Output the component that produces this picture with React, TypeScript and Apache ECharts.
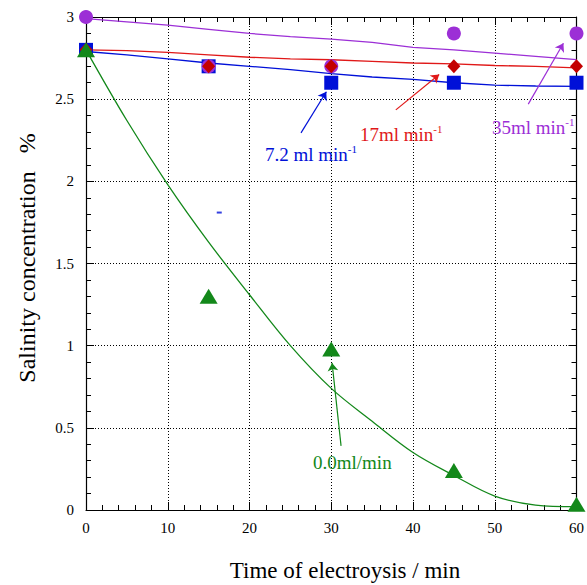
import React, { useEffect, useRef } from "react";
import * as echarts from "echarts";

// measured points
const xPts = [0, 15, 30, 45, 60];
const purplePts = [3.0, 2.7, 2.7, 2.9, 2.9];
const redPts = [2.8, 2.7, 2.7, 2.7, 2.7];
const bluePts = [2.8, 2.7, 2.6, 2.6, 2.6];
const greenPts = [2.8, 1.3, 0.98, 0.24, 0.035];

// fitted curves
const xFit = [0, 5, 10, 15, 20, 25, 30, 35, 40, 45, 50, 55, 60];
const purpleFit = [2.99, 2.97, 2.95, 2.925, 2.9, 2.88, 2.865, 2.845, 2.815, 2.8, 2.78, 2.76, 2.74];
const redFit = [2.8, 2.795, 2.785, 2.77, 2.755, 2.745, 2.74, 2.73, 2.72, 2.715, 2.705, 2.7, 2.69];
const blueFit = [2.79, 2.77, 2.745, 2.72, 2.7, 2.68, 2.655, 2.635, 2.62, 2.6, 2.585, 2.58, 2.578];
const greenFit = [2.8, 2.37, 1.98, 1.63, 1.31, 1.0, 0.74, 0.54, 0.35, 0.21, 0.085, 0.03, 0.02];

// stray mark
const strayPt = [16.3, 1.81];

// annotation arrows [from, to] in data coords
const blueArrow = [[26.3, 2.295], [29.4, 2.545]];
const redArrow = [[37.9, 2.435], [43.2, 2.65]];
const purpleArrow = [[54.1, 2.47], [58.4, 2.84]];
const greenArrow = [[31.2, 0.39], [30.1, 0.895]];

const labels = {
  blue: "7.2 ml min",
  red: "17ml min",
  purple: "35ml min",
  green: "0.0ml/min",
};

const xTitle = "Time of electroysis / min";
const yTitle = "Salinity concentration   %";

const C_PURPLE = "#9c2fd6";
const C_RED = "#e01818";
const C_RED_PT = "#c40000";
const C_BLUE = "#0010d8";
const C_GREEN = "#13881a";
const FONT = "Liberation Serif";

const zip = (xs: number[], ys: number[]) => xs.map((x, i) => [x, ys[i]]);

function arrowMark(a: number[][], color: string) {
  return {
    silent: true,
    symbol: ["none", "arrow"],
    symbolSize: 8,
    label: { show: false },
    lineStyle: { color, width: 1.2, type: "solid" },
    data: [[{ coord: a[0] }, { coord: a[1] }]],
  };
}

function fitLine(name: string, ys: number[], color: string, arrow: number[][], smooth: number) {
  return {
    name,
    type: "line",
    data: zip(xFit, ys),
    showSymbol: false,
    symbol: "none",
    smooth,
    lineStyle: { color, width: 1.3 },
    silent: true,
    z: 2,
    markLine: arrowMark(arrow, color),
  };
}

function ptSeries(name: string, ys: number[], color: string, symbol: string, size: any) {
  return {
    name,
    type: "scatter",
    data: zip(xPts, ys),
    symbol,
    symbolSize: size,
    itemStyle: { color, opacity: 1 },
    silent: true,
    z: 3,
  };
}

function annot(x: number, y: number, text: string, color: string, sup: boolean) {
  return {
    type: "text",
    x,
    y,
    z: 10,
    style: {
      text: sup ? `{a|${text}}{s|-1}` : `{a|${text}}`,
      fill: color,
      textAlign: "left",
      textVerticalAlign: "middle",
      rich: {
        a: { fontSize: 19, fontFamily: FONT, fill: color, lineHeight: 22 },
        s: { fontSize: 11, fontFamily: FONT, fill: color, verticalAlign: "top", lineHeight: 11 },
      },
    },
  };
}

const baseX = {
  type: "value",
  min: 0,
  max: 60,
  interval: 10,
  axisLine: { show: true, onZero: false, lineStyle: { color: "#000", width: 1.2 } },
  axisTick: { show: true, inside: true, length: 8, lineStyle: { color: "#000" } },
  minorTick: { show: true, splitNumber: 5, length: 5, lineStyle: { color: "#000" } },
};
const baseY = {
  type: "value",
  min: 0,
  max: 3,
  interval: 0.5,
  axisLine: { show: true, onZero: false, lineStyle: { color: "#000", width: 1.2 } },
  axisTick: { show: true, inside: true, length: 8, lineStyle: { color: "#000" } },
  minorTick: { show: true, splitNumber: 5, length: 5, lineStyle: { color: "#000" } },
};

export default function App() {
  const ref = useRef<HTMLDivElement>(null);
  useEffect(() => {
    if (!ref.current) return;
    const chart = echarts.init(ref.current, null, { renderer: "svg" });
    chart.setOption({
      animation: false,
      backgroundColor: "#fff",
      grid: { left: 86, top: 17, width: 492, height: 493, containLabel: false },
      xAxis: [
        {
          ...baseX,
          position: "bottom",
          axisLabel: { color: "#000", fontSize: 15, fontFamily: FONT, margin: 10 },
          splitLine: { show: true, lineStyle: { color: "#000", type: [1, 2], width: 1 } },
        },
        {
          ...baseX,
          position: "top",
          axisLabel: { show: false },
          splitLine: { show: false },
        },
      ],
      yAxis: [
        {
          ...baseY,
          position: "left",
          axisLabel: { color: "#000", fontSize: 15, fontFamily: FONT, margin: 12 },
          splitLine: { show: true, lineStyle: { color: "#000", type: [1, 2], width: 1 } },
        },
        {
          ...baseY,
          position: "right",
          axisLabel: { show: false },
          splitLine: { show: false },
        },
      ],
      series: [
        fitLine("35fit", purpleFit, C_PURPLE, purpleArrow, 0),
        fitLine("17fit", redFit, C_RED, redArrow, 0),
        fitLine("7.2fit", blueFit, C_BLUE, blueArrow, 0),
        fitLine("0fit", greenFit, C_GREEN, greenArrow, 0.35),
        ptSeries("7.2", bluePts, C_BLUE, "rect", 14),
        ptSeries("35", purplePts, C_PURPLE, "circle", 14),
        ptSeries("17", redPts, C_RED_PT, "diamond", [13, 14]),
        ptSeries("0", greenPts, C_GREEN, "triangle", [18, 15]),
        {
          name: "stray",
          type: "scatter",
          data: [strayPt],
          symbol: "rect",
          symbolSize: [5, 2],
          itemStyle: { color: C_BLUE },
          silent: true,
        },
      ],
      graphic: [
        annot(265, 154, labels.blue, C_BLUE, true),
        annot(360, 134, labels.red, C_RED, true),
        annot(492, 127, labels.purple, C_PURPLE, true),
        annot(313, 462, labels.green, C_GREEN, false),
        {
          type: "text",
          x: 345,
          y: 570,
          style: {
            text: xTitle,
            fill: "#000",
            fontSize: 23,
            fontFamily: FONT,
            textAlign: "center",
            textVerticalAlign: "middle",
          },
        },
        {
          type: "text",
          x: 27,
          y: 258,
          rotation: Math.PI / 2,
          style: {
            text: yTitle,
            fill: "#000",
            fontSize: 24,
            fontFamily: FONT,
            textAlign: "center",
            textVerticalAlign: "middle",
          },
        },
      ],
    });
    return () => chart.dispose();
  }, []);
  return (
    <div
      ref={ref}
      style={{ position: "absolute", left: 0, top: 0, width: 587, height: 585 }}
    />
  );
}
